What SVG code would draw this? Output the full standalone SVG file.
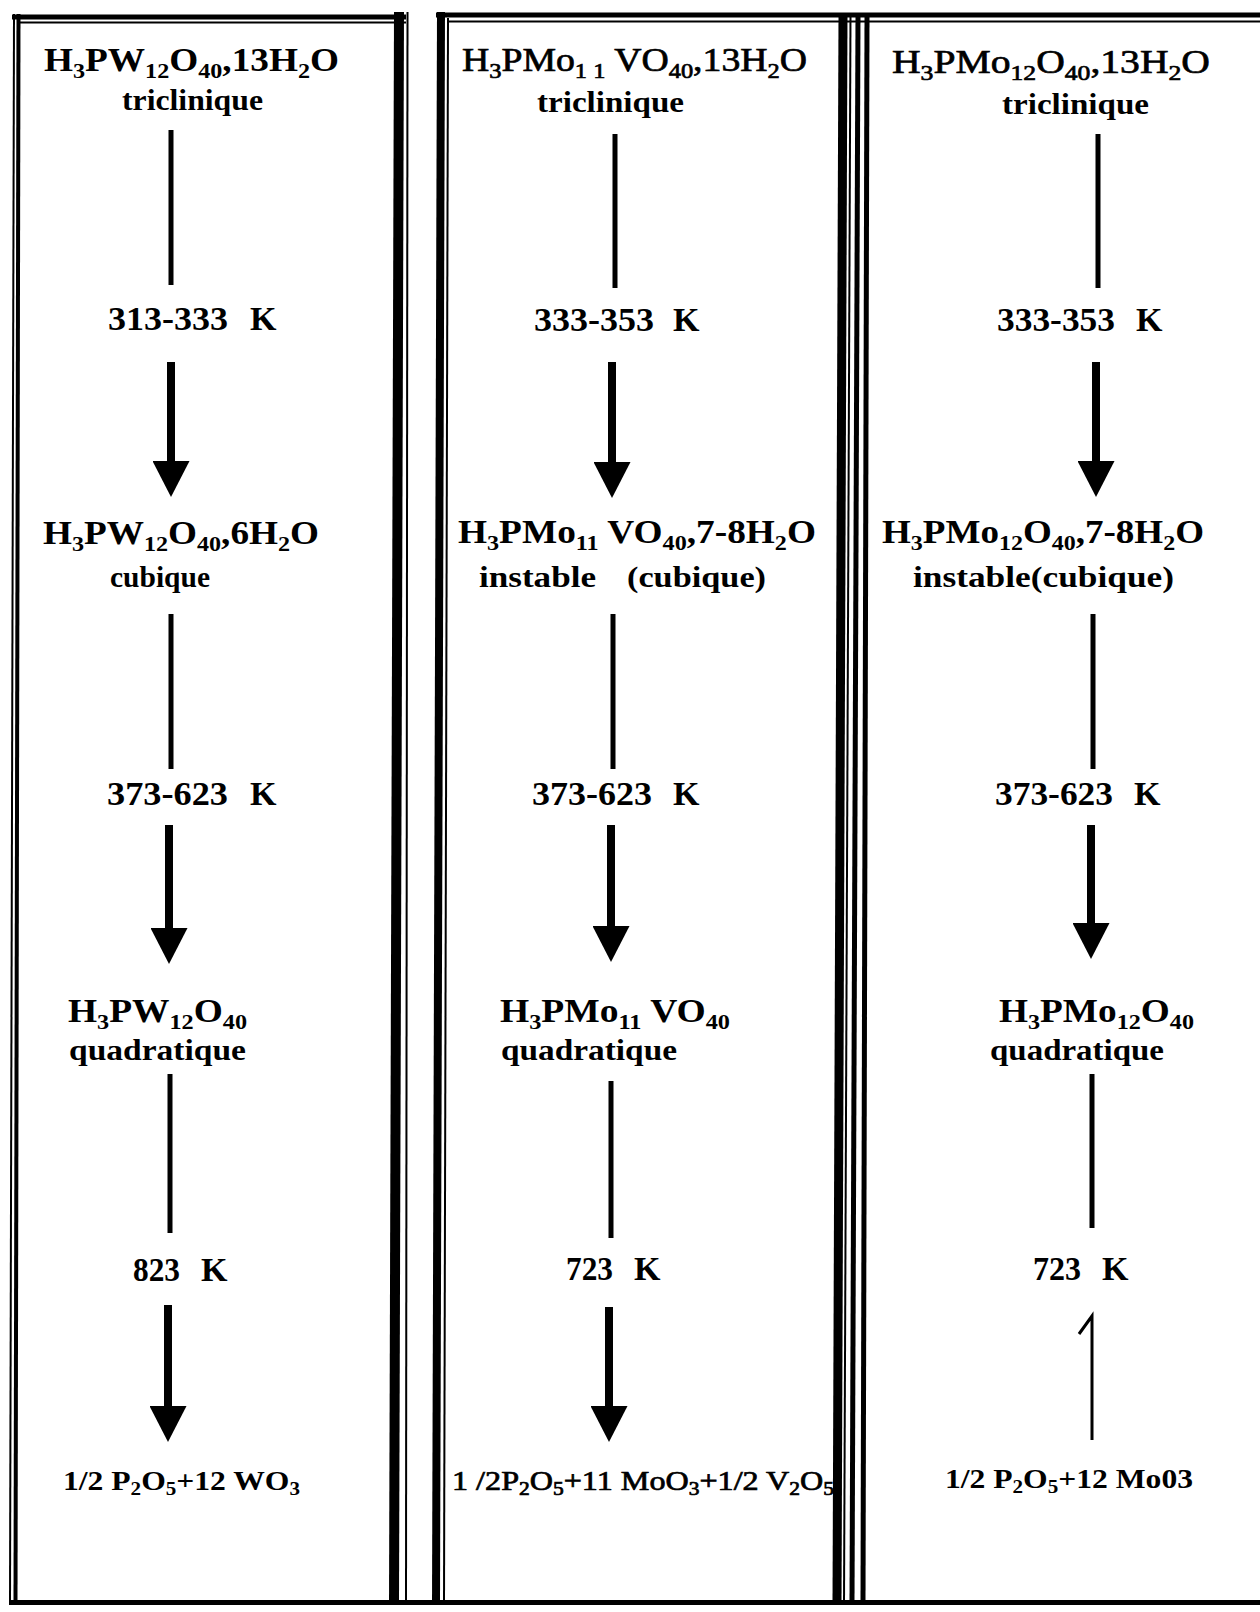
<svg xmlns="http://www.w3.org/2000/svg" width="1260" height="1612" viewBox="0 0 1260 1612">
  <style>
    text { font-family: "Liberation Serif", "Times New Roman", serif; fill: #000; font-weight: bold; }
    .reg { font-weight: normal; stroke: #000; stroke-width: 0.7px; }
    .formula { font-size: 34px; }
    .phase { font-size: 30px; }
    .temp { font-size: 34px; }
    .prod { font-size: 27px; }
    .sub { font-size: 22px; }
    .psub { font-size: 18px; }
    .edge { stroke: #000; fill: none; }
    .plain { stroke: #000; stroke-width: 5; }
    .shaft { stroke: #000; stroke-width: 8; marker-end: url(#head); }
    .hook { stroke: #000; stroke-width: 3; fill: none; }
  </style>
  <defs>
    <marker id="head" markerUnits="userSpaceOnUse" markerWidth="37" markerHeight="37" viewBox="0 0 36 37" refX="0" refY="18.5" orient="auto">
      <path d="M0,0 L36,18.5 L0,37 Z" fill="#000"/>
    </marker>
  </defs>
  <rect width="1260" height="1612" fill="#fff"/>

  <!-- panel frames (slightly skewed, as ruled by hand) -->
  <g id="frames">
    <line class="edge" x1="14" y1="14" x2="10" y2="1604" stroke-width="2"/>
    <line class="edge" x1="18.5" y1="14" x2="15.5" y2="1604" stroke-width="4"/>
    <line class="edge" x1="12" y1="17" x2="406" y2="17" stroke-width="5"/>
    <line class="edge" x1="17" y1="22.5" x2="406" y2="22.5" stroke-width="2"/>
    <line class="edge" x1="399" y1="12" x2="394" y2="1604" stroke-width="10"/>
    <line class="edge" x1="407.5" y1="12" x2="406" y2="1604" stroke-width="2"/>

    <line class="edge" x1="441" y1="12" x2="436" y2="1604" stroke-width="8"/>
    <line class="edge" x1="448" y1="18" x2="444" y2="1604" stroke-width="2"/>
    <line class="edge" x1="436" y1="15" x2="1260" y2="15" stroke-width="5"/>
    <line class="edge" x1="448" y1="21.5" x2="1260" y2="21.5" stroke-width="2"/>
    <line class="edge" x1="843" y1="15" x2="837" y2="1604" stroke-width="9"/>
    <line class="edge" x1="850.5" y1="15" x2="844" y2="1604" stroke-width="2"/>
    <line class="edge" x1="858" y1="15" x2="852" y2="1604" stroke-width="5"/>
    <line class="edge" x1="867" y1="15" x2="863" y2="1604" stroke-width="5"/>

    <line class="edge" x1="9" y1="1602.5" x2="1260" y2="1602.5" stroke-width="5"/>
  </g>

  <!-- transitions -->
  <g id="connectors">
    <line class="plain" x1="171" y1="130" x2="171" y2="285"/>
    <line class="shaft" x1="171" y1="362" x2="171" y2="461"/>
    <line class="plain" x1="171" y1="614" x2="171" y2="769"/>
    <line class="shaft" x1="169" y1="825" x2="169" y2="928"/>
    <line class="plain" x1="170" y1="1074" x2="170" y2="1233"/>
    <line class="shaft" x1="168" y1="1305" x2="168" y2="1406"/>

    <line class="plain" x1="615" y1="134" x2="615" y2="288"/>
    <line class="shaft" x1="612" y1="362" x2="612" y2="462"/>
    <line class="plain" x1="613" y1="614" x2="613" y2="769"/>
    <line class="shaft" x1="611" y1="825" x2="611" y2="926"/>
    <line class="plain" x1="611" y1="1081" x2="611" y2="1238"/>
    <line class="shaft" x1="609" y1="1307" x2="609" y2="1406"/>

    <line class="plain" x1="1098" y1="134" x2="1098" y2="288"/>
    <line class="shaft" x1="1096" y1="362" x2="1096" y2="461"/>
    <line class="plain" x1="1093" y1="614" x2="1093" y2="769"/>
    <line class="shaft" x1="1091" y1="825" x2="1091" y2="923"/>
    <line class="plain" x1="1092" y1="1074" x2="1092" y2="1228"/>
    <path class="hook" d="M1092,1440 L1092,1316 L1079,1334"/>
  </g>

  <!-- column 1 : H3PW12O40 -->
  <g id="pw-hydrate13">
    <text class="formula" x="44" y="71" textLength="295" lengthAdjust="spacingAndGlyphs">H<tspan class="sub" dy="7">3</tspan><tspan dy="-7">PW</tspan><tspan class="sub" dy="7">12</tspan><tspan dy="-7">O</tspan><tspan class="sub" dy="7">40</tspan><tspan dy="-7">,13H</tspan><tspan class="sub" dy="7">2</tspan><tspan dy="-7">O</tspan></text>
    <text class="phase" x="122" y="110" textLength="141" lengthAdjust="spacingAndGlyphs">triclinique</text>
  </g>
  <g id="pw-t1"><text class="temp" x="108" y="330" textLength="120" lengthAdjust="spacingAndGlyphs">313-333</text><text class="temp" x="250" y="330">K</text></g>
  <g id="pw-hydrate6">
    <text class="formula" x="43" y="544" textLength="276" lengthAdjust="spacingAndGlyphs">H<tspan class="sub" dy="7">3</tspan><tspan dy="-7">PW</tspan><tspan class="sub" dy="7">12</tspan><tspan dy="-7">O</tspan><tspan class="sub" dy="7">40</tspan><tspan dy="-7">,6H</tspan><tspan class="sub" dy="7">2</tspan><tspan dy="-7">O</tspan></text>
    <text class="phase" x="110" y="587" textLength="100" lengthAdjust="spacingAndGlyphs">cubique</text>
  </g>
  <g id="pw-t2"><text class="temp" x="107" y="805" textLength="121" lengthAdjust="spacingAndGlyphs">373-623</text><text class="temp" x="250" y="805">K</text></g>
  <g id="pw-anhydrous">
    <text class="formula" x="68" y="1022" textLength="179" lengthAdjust="spacingAndGlyphs">H<tspan class="sub" dy="7">3</tspan><tspan dy="-7">PW</tspan><tspan class="sub" dy="7">12</tspan><tspan dy="-7">O</tspan><tspan class="sub" dy="7">40</tspan></text>
    <text class="phase" x="69" y="1060" textLength="177" lengthAdjust="spacingAndGlyphs">quadratique</text>
  </g>
  <g id="pw-t3"><text class="temp" x="133" y="1281" textLength="47" lengthAdjust="spacingAndGlyphs">823</text><text class="temp" x="201" y="1281">K</text></g>
  <g id="pw-oxides">
    <text class="prod" x="63" y="1490" textLength="237" lengthAdjust="spacingAndGlyphs">1/2 P<tspan class="psub" dy="5">2</tspan><tspan dy="-5">O</tspan><tspan class="psub" dy="5">5</tspan><tspan dy="-5">+12 WO</tspan><tspan class="psub" dy="5">3</tspan></text>
  </g>

  <!-- column 2 : H3PMo11VO40 -->
  <g id="pmov-hydrate13">
    <text class="formula reg" x="462" y="71" textLength="345" lengthAdjust="spacingAndGlyphs">H<tspan class="sub" dy="7">3</tspan><tspan dy="-7">PMo</tspan><tspan class="sub" dy="7">1 1</tspan><tspan dy="-7"> VO</tspan><tspan class="sub" dy="7">40</tspan><tspan dy="-7">,13H</tspan><tspan class="sub" dy="7">2</tspan><tspan dy="-7">O</tspan></text>
    <text class="phase" x="537" y="112" textLength="147" lengthAdjust="spacingAndGlyphs">triclinique</text>
  </g>
  <g id="pmov-t1"><text class="temp" x="534" y="331" textLength="120" lengthAdjust="spacingAndGlyphs">333-353</text><text class="temp" x="673" y="331">K</text></g>
  <g id="pmov-hydrate7">
    <text class="formula" x="458" y="543" textLength="358" lengthAdjust="spacingAndGlyphs">H<tspan class="sub" dy="7">3</tspan><tspan dy="-7">PMo</tspan><tspan class="sub" dy="7">11</tspan><tspan dy="-7"> VO</tspan><tspan class="sub" dy="7">40</tspan><tspan dy="-7">,7-8H</tspan><tspan class="sub" dy="7">2</tspan><tspan dy="-7">O</tspan></text>
    <text class="phase" x="479" y="587" textLength="117" lengthAdjust="spacingAndGlyphs">instable</text>
    <text class="phase" x="627" y="587" textLength="139" lengthAdjust="spacingAndGlyphs">(cubique)</text>
  </g>
  <g id="pmov-t2"><text class="temp" x="532" y="805" textLength="120" lengthAdjust="spacingAndGlyphs">373-623</text><text class="temp" x="673" y="805">K</text></g>
  <g id="pmov-anhydrous">
    <text class="formula" x="500" y="1022" textLength="230" lengthAdjust="spacingAndGlyphs">H<tspan class="sub" dy="7">3</tspan><tspan dy="-7">PMo</tspan><tspan class="sub" dy="7">11</tspan><tspan dy="-7"> VO</tspan><tspan class="sub" dy="7">40</tspan></text>
    <text class="phase" x="501" y="1060" textLength="176" lengthAdjust="spacingAndGlyphs">quadratique</text>
  </g>
  <g id="pmov-t3"><text class="temp" x="566" y="1280" textLength="47" lengthAdjust="spacingAndGlyphs">723</text><text class="temp" x="634" y="1280">K</text></g>
  <g id="pmov-oxides">
    <text class="prod reg" x="452" y="1490" textLength="382" lengthAdjust="spacingAndGlyphs">1 /2P<tspan class="psub" dy="5">2</tspan><tspan dy="-5">O</tspan><tspan class="psub" dy="5">5</tspan><tspan dy="-5">+11 MoO</tspan><tspan class="psub" dy="5">3</tspan><tspan dy="-5">+1/2 V</tspan><tspan class="psub" dy="5">2</tspan><tspan dy="-5">O</tspan><tspan class="psub" dy="5">5</tspan></text>
  </g>

  <!-- column 3 : H3PMo12O40 -->
  <g id="pmo-hydrate13">
    <text class="formula reg" x="892" y="73" textLength="318" lengthAdjust="spacingAndGlyphs">H<tspan class="sub" dy="7">3</tspan><tspan dy="-7">PMo</tspan><tspan class="sub" dy="7">12</tspan><tspan dy="-7">O</tspan><tspan class="sub" dy="7">40</tspan><tspan dy="-7">,13H</tspan><tspan class="sub" dy="7">2</tspan><tspan dy="-7">O</tspan></text>
    <text class="phase" x="1002" y="114" textLength="147" lengthAdjust="spacingAndGlyphs">triclinique</text>
  </g>
  <g id="pmo-t1"><text class="temp" x="997" y="331" textLength="118" lengthAdjust="spacingAndGlyphs">333-353</text><text class="temp" x="1136" y="331">K</text></g>
  <g id="pmo-hydrate7">
    <text class="formula" x="882" y="543" textLength="322" lengthAdjust="spacingAndGlyphs">H<tspan class="sub" dy="7">3</tspan><tspan dy="-7">PMo</tspan><tspan class="sub" dy="7">12</tspan><tspan dy="-7">O</tspan><tspan class="sub" dy="7">40</tspan><tspan dy="-7">,7-8H</tspan><tspan class="sub" dy="7">2</tspan><tspan dy="-7">O</tspan></text>
    <text class="phase" x="913" y="587" textLength="261" lengthAdjust="spacingAndGlyphs">instable(cubique)</text>
  </g>
  <g id="pmo-t2"><text class="temp" x="995" y="805" textLength="118" lengthAdjust="spacingAndGlyphs">373-623</text><text class="temp" x="1134" y="805">K</text></g>
  <g id="pmo-anhydrous">
    <text class="formula" x="999" y="1022" textLength="195" lengthAdjust="spacingAndGlyphs">H<tspan class="sub" dy="7">3</tspan><tspan dy="-7">PMo</tspan><tspan class="sub" dy="7">12</tspan><tspan dy="-7">O</tspan><tspan class="sub" dy="7">40</tspan></text>
    <text class="phase" x="990" y="1060" textLength="174" lengthAdjust="spacingAndGlyphs">quadratique</text>
  </g>
  <g id="pmo-t3"><text class="temp" x="1033" y="1280" textLength="48" lengthAdjust="spacingAndGlyphs">723</text><text class="temp" x="1102" y="1280">K</text></g>
  <g id="pmo-oxides">
    <text class="prod" x="945" y="1488" textLength="248" lengthAdjust="spacingAndGlyphs">1/2 P<tspan class="psub" dy="5">2</tspan><tspan dy="-5">O</tspan><tspan class="psub" dy="5">5</tspan><tspan dy="-5">+12 Mo03</tspan></text>
  </g>
</svg>
